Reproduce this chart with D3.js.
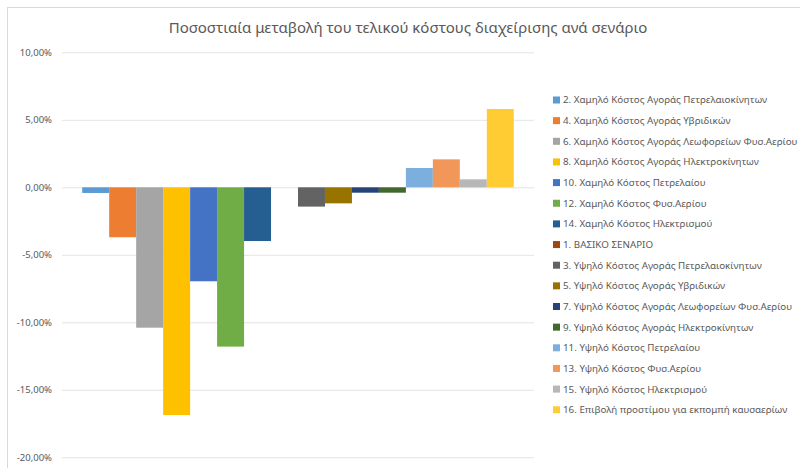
<!DOCTYPE html>
<html>
<head>
<meta charset="UTF-8">
<title>Ποσοστιαία μεταβολή</title>
<script src="https://cdn.jsdelivr.net/npm/d3@7"></script>
<style>
	body { margin: 0; background: #fff; }
	svg { font-family: "Noto Sans", "Open Sans", sans-serif; }
</style>
</head>
<body>
<svg id="chart" width="800" height="468"></svg>
<script>
	// series names in legend order, one bar each
	var series = [
		"2. Χαμηλό Κόστος Αγοράς Πετρελαιοκίνητων",
		"4. Χαμηλό Κόστος Αγοράς Υβριδικών",
		"6. Χαμηλό Κόστος Αγοράς Λεωφορείων Φυσ.Αερίου",
		"8. Χαμηλό Κόστος Αγοράς Ηλεκτροκίνητων",
		"10. Χαμηλό Κόστος Πετρελαίου",
		"12. Χαμηλό Κόστος Φυσ.Αερίου",
		"14. Χαμηλό Κόστος Ηλεκτρισμού",
		"1. ΒΑΣΙΚΟ ΣΕΝΑΡΙΟ",
		"3. Υψηλό Κόστος Αγοράς Πετρελαιοκίνητων",
		"5. Υψηλό Κόστος Αγοράς Υβριδικών",
		"7. Υψηλό Κόστος Αγοράς Λεωφορείων Φυσ.Αερίου",
		"9. Υψηλό Κόστος Αγοράς Ηλεκτροκίνητων",
		"11. Υψηλό Κόστος Πετρελαίου",
		"13. Υψηλό Κόστος Φυσ.Αερίου",
		"15. Υψηλό Κόστος Ηλεκτρισμού",
		"16. Επιβολή προστίμου για εκπομπή καυσαερίων"
	];
	var values = [-0.0042, -0.037, -0.104, -0.1687, -0.0696, -0.118, -0.0398, 0,
		-0.0143, -0.0119, -0.004, -0.004, 0.0143, 0.0207, 0.0059, 0.058];
	var colors = ["#5B9BD5", "#ED7D31", "#A5A5A5", "#FFC000", "#4472C4", "#70AD47", "#255E91", "#9E480E",
		"#636363", "#997300", "#264478", "#43682B", "#7CAFDD", "#F1975A", "#B7B7B7", "#FFCD33"];
	var yTicks = [0.10, 0.05, 0, -0.05, -0.10, -0.15, -0.20];

	var svg = d3.select("#chart");
	var plotLeft = 62, plotRight = 534, plotTop = 52.3, plotBottom = 457.3;

	var locale = d3.formatLocale({decimal: ",", thousands: ".", grouping: [3], currency: ["", "€"], minus: "-"});
	var fmt = locale.format(".2%");

	// chart frame (only top and left edges show)
	svg.append("line").attr("x1", 7).attr("x2", 800).attr("y1", 7.5).attr("y2", 7.5)
		.attr("stroke", "#d9d9d9").attr("stroke-width", 1);
	svg.append("line").attr("x1", 7.5).attr("x2", 7.5).attr("y1", 7).attr("y2", 468)
		.attr("stroke", "#d9d9d9").attr("stroke-width", 1);

	var y = d3.scaleLinear().domain([-0.20, 0.10]).range([plotBottom, plotTop]);
	var x = d3.scaleBand().domain(series).range([plotLeft, plotRight]).paddingInner(0).paddingOuter(0.75);
	var color = d3.scaleOrdinal().domain(series).range(colors);

	var yAxis = d3.axisLeft(y).tickValues(yTicks).tickFormat(fmt)
		.tickSize(-(plotRight - plotLeft)).tickPadding(10);
	var gy = svg.append("g").attr("transform", "translate(" + plotLeft + ",0)").call(yAxis);
	gy.select(".domain").remove();
	gy.selectAll(".tick line").attr("stroke", "#d9d9d9").attr("stroke-width", 0.75);
	gy.selectAll(".tick text").attr("fill", "#595959").style("font-size", "9.5px")
		.style("font-family", "'Noto Sans', sans-serif");

	svg.append("g").selectAll("rect").data(series).enter().append("rect")
		.attr("x", function (d) { return x(d); })
		.attr("width", x.bandwidth())
		.attr("y", function (d, i) { return y(Math.max(0, values[i])); })
		.attr("height", function (d, i) { return Math.abs(y(values[i]) - y(0)); })
		.attr("fill", function (d) { return color(d); });

	svg.append("text").attr("x", 408).attr("y", 33).attr("text-anchor", "middle")
		.attr("fill", "#595959").style("font-size", "15px")
		.text("Ποσοστιαία μεταβολή του τελικού κόστους διαχείρισης ανά σενάριο");

	var leg = svg.append("g").selectAll("g").data(series).enter().append("g")
		.attr("transform", function (d, i) { return "translate(553," + (100 + i * 20.65) + ")"; });
	leg.append("rect").attr("x", 0).attr("y", -3.5).attr("width", 7).attr("height", 7)
		.attr("fill", function (d) { return color(d); });
	leg.append("text").attr("x", 10).attr("dy", "0.35em").attr("fill", "#595959")
		.style("font-size", "9.8px").text(function (d) { return d; });
</script>
</body>
</html>
